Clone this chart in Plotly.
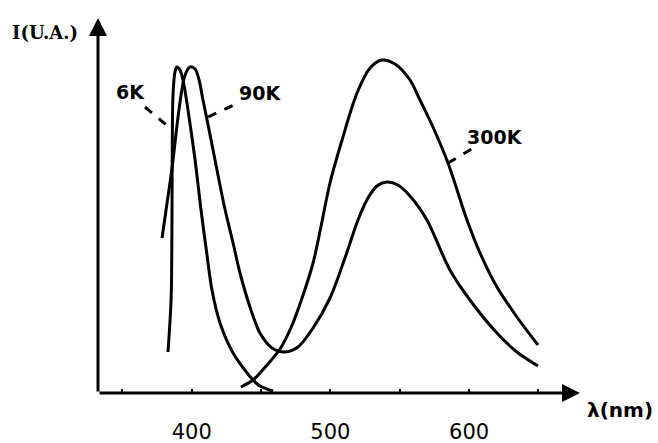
import plotly.graph_objects as go

# ---- data (wavelength in nm, intensity in arbitrary units) ----
wl_6k = [382.9, 385.1, 385.6, 385.8, 386.0, 386.5, 387.9, 389.3, 391.5, 393.7,
         397.3, 402.4, 406.7, 411.0, 414.6, 420.4, 429.8, 444.2, 449.2, 458.6]
i_6k = [41, 93, 138, 193, 253, 298, 321, 326, 323, 313,
        283, 233, 183, 138, 103, 70, 40, 13, 7, 2]

wl_90k = [378.6, 382.2, 385.8, 389.4, 392.3, 395.2, 398.8, 402.4, 405.3, 408.1,
          411.8, 416.8, 423.3, 429.8, 434.8, 442.0, 449.2, 457.9, 467.3, 476.6,
          487.5, 499.7, 510.5, 519.9, 527.1, 533.6, 540.8, 548.7, 557.4, 569.6,
          586.2, 600.6, 620.1, 634.5, 649.7]
i_90k = [155, 190, 225, 268, 298, 318, 326, 324, 313, 293,
         268, 233, 188, 150, 120, 86, 60, 45, 41, 46,
         65, 95, 135, 173, 195, 207, 211, 208, 197, 173,
         123, 93, 60, 41, 27]

wl_300k = [435.5, 444.2, 453.6, 463.7, 472.4, 480.3, 487.5, 493.0, 499.7, 508.4,
           519.2, 528.6, 537.2, 546.6, 557.4, 564.6, 573.3, 584.8, 598.5, 607.9,
           620.1, 634.5, 649.7]
i_300k = [6, 13, 27, 44, 68, 98, 130, 165, 210, 253,
          300, 325, 333, 329, 313, 293, 268, 230, 173, 140,
          106, 76, 48]

tick_vals = [350, 400, 450, 500, 550, 600, 650]
tick_text = ["", "400", "", "500", "", "600", ""]

curve_labels = ["6K", "90K", "300K"]
label_pos = [(355.5, 301), (449.2, 300), (618.7, 256)]
leaders = [((366.3, 286), (384.3, 265)),
           ((411.8, 276), (433.4, 290)),
           ((584.8, 230), (604.3, 246))]

X_MIN, X_MAX = 332.4, 680
Y_MIN, Y_MAX = 0, 375

fig = go.Figure()
for wl, it in [(wl_6k, i_6k), (wl_90k, i_90k), (wl_300k, i_300k)]:
    fig.add_trace(go.Scatter(x=wl, y=it, mode="lines",
                             line=dict(color="black", width=3, shape="spline", smoothing=0.9),
                             showlegend=False, hoverinfo="skip"))

lab_font = dict(family="DejaVu Sans", size=19, color="black")
for txt, (lx, ly) in zip(curve_labels, label_pos):
    fig.add_annotation(x=lx, y=ly, text="<b>%s</b>" % txt, showarrow=False,
                       font=lab_font, xanchor="center", yanchor="middle")

for (a, b) in leaders:
    fig.add_shape(type="line", x0=a[0], y0=a[1], x1=b[0], y1=b[1],
                  line=dict(color="black", width=3, dash="dash"))

# axes with arrows
fig.add_annotation(x=X_MAX, y=0, ax=X_MIN, ay=0, axref="x", ayref="y",
                   xref="x", yref="y", text="", showarrow=True,
                   arrowhead=2, arrowsize=1.2, arrowwidth=3, arrowcolor="black")
fig.add_annotation(x=X_MIN, y=Y_MAX, ax=X_MIN, ay=0, axref="x", ayref="y",
                   xref="x", yref="y", text="", showarrow=True,
                   arrowhead=2, arrowsize=1.2, arrowwidth=3, arrowcolor="black")

# axis titles (paper coordinates; plot area spans px 98..580 x 18..393)
fig.add_annotation(x=(45 - 98) / 482, y=(393 - 32) / 375, xref="paper", yref="paper",
                   text="<b>I(U.A.)</b>", showarrow=False,
                   font=dict(family="DejaVu Serif", size=18, color="black"),
                   xanchor="center", yanchor="middle")
fig.add_annotation(x=(620 - 98) / 482, y=(393 - 410) / 375, xref="paper", yref="paper",
                   text="<b>λ(nm)</b>", showarrow=False,
                   font=dict(family="DejaVu Sans", size=20, color="black"),
                   xanchor="center", yanchor="middle")

fig.update_layout(
    width=658, height=443,
    margin=dict(l=98, r=78, t=18, b=50, autoexpand=False),
    paper_bgcolor="white", plot_bgcolor="white",
    xaxis=dict(range=[X_MIN, X_MAX], showgrid=False, zeroline=False, showline=False,
               automargin=False,
               tickvals=tick_vals, ticktext=tick_text, ticks="inside", ticklen=4,
               tickwidth=2, tickcolor="black", ticklabelstandoff=24,
               tickprefix="<b>", ticksuffix="</b>",
               tickfont=dict(family="DejaVu Sans", size=21, color="black")),
    yaxis=dict(range=[Y_MIN, Y_MAX], showgrid=False, zeroline=False, showline=False,
               automargin=False, showticklabels=False, ticks=""),
)

fig.write_html("out.html", config={"displayModeBar": False},
               post_script="document.body.style.margin='0';")
